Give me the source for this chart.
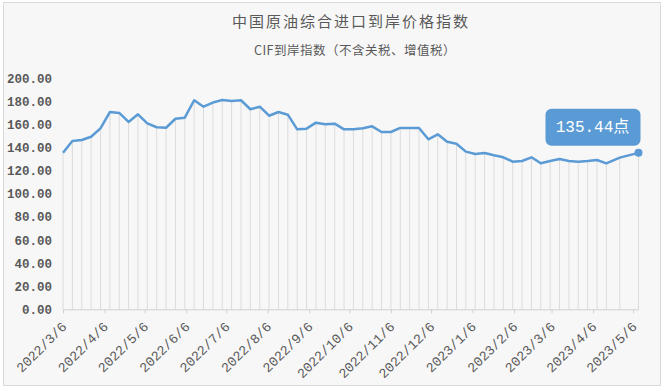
<!DOCTYPE html>
<html>
<head>
<meta charset="utf-8">
<script src="https://cdn.jsdelivr.net/npm/d3@7"></script>
<style>
  body { margin: 0; background: #fff; }
  svg { display: block; }
</style>
</head>
<body>
<div id="chart"></div>
<script>
let title = '中国原油综合进口到岸价格指数';
let subtitle = 'CIF到岸指数（不含关税、增值税）';

// weekly readings, last two came in late (holiday gap)
let dates = [
  '2022/3/6', '2022/3/13', '2022/3/20', '2022/3/27', '2022/4/3', '2022/4/10',
  '2022/4/17', '2022/4/24', '2022/5/1', '2022/5/8', '2022/5/15', '2022/5/22',
  '2022/5/29', '2022/6/5', '2022/6/12', '2022/6/19', '2022/6/26', '2022/7/3',
  '2022/7/10', '2022/7/17', '2022/7/24', '2022/7/31', '2022/8/7', '2022/8/14',
  '2022/8/21', '2022/8/28', '2022/9/4', '2022/9/11', '2022/9/18', '2022/9/25',
  '2022/10/2', '2022/10/9', '2022/10/16', '2022/10/23', '2022/10/30', '2022/11/6',
  '2022/11/13', '2022/11/20', '2022/11/27', '2022/12/4', '2022/12/11', '2022/12/18',
  '2022/12/25', '2023/1/1', '2023/1/8', '2023/1/15', '2023/1/22', '2023/1/29',
  '2023/2/5', '2023/2/12', '2023/2/19', '2023/2/26', '2023/3/5', '2023/3/12',
  '2023/3/19', '2023/3/26', '2023/4/2', '2023/4/9', '2023/4/16', '2023/4/26',
  '2023/5/10'
];

let values = [
  135.6, 145.7, 146.6, 149.4, 156.7, 170.8,
  170.0, 162.2, 168.8, 161.0, 157.6, 157.2,
  165.0, 165.9, 181.0, 175.4, 179.0, 181.2,
  180.3, 181.0, 173.2, 175.4, 167.6, 170.8,
  168.5, 155.8, 156.4, 161.6, 160.2, 160.7,
  155.8, 155.8, 156.7, 158.4, 153.5, 153.5,
  157.0, 157.0, 157.0, 147.2, 151.5, 145.1,
  143.4, 136.5, 134.5, 135.3, 133.3, 131.6,
  127.8, 128.4, 131.6, 126.4, 128.4, 130.1,
  128.4, 127.8, 128.4, 129.3, 126.4, 131.3,
  135.44
];

let x_tick_labels = [
  '2022/3/6', '2022/4/6', '2022/5/6', '2022/6/6', '2022/7/6', '2022/8/6',
  '2022/9/6', '2022/10/6', '2022/11/6', '2022/12/6', '2023/1/6', '2023/2/6',
  '2023/3/6', '2023/4/6', '2023/5/6'
];

let y_tick_values = [0, 20, 40, 60, 80, 100, 120, 140, 160, 180, 200];

let callout_label = '135.44点';

let chart_width = 667;
let chart_height = 389;
let line_color = '#5b9bd5';
let text_color = '#595959';
let num_font = '"Liberation Mono", "Noto Sans CJK SC", monospace';

let parse = d3.timeParse('%Y/%-m/%-d');
let data = dates.map((d, i) => {
  return { date: parse(d), value: values[i] };
});

let svg = d3
  .select('#chart')
  .append('svg')
  .attr('width', chart_width)
  .attr('height', chart_height);

//panel background + border
svg
  .append('rect')
  .attr('x', 3.5)
  .attr('y', 2.5)
  .attr('width', 657)
  .attr('height', 383)
  .attr('fill', '#f7f7f7')
  .attr('stroke', '#d9d9d9');

let x_scale = d3
  .scaleTime()
  .domain([data[0].date, data[data.length - 1].date])
  .range([63, 638.5]);

let y_scale = d3
  .scaleLinear()
  .domain([0, 200])
  .range([309.3, 78.3]);

//titles
svg
  .append('text')
  .attr('x', 351)
  .attr('y', 27)
  .attr('text-anchor', 'middle')
  .style('font-family', '"Noto Sans CJK SC", sans-serif')
  .style('font-size', '15px')
  .style('letter-spacing', '2px')
  .attr('fill', text_color)
  .text(title);

svg
  .append('text')
  .attr('x', 355)
  .attr('y', 55)
  .attr('text-anchor', 'middle')
  .style('font-family', '"Noto Sans CJK SC", sans-serif')
  .style('font-size', '12.5px')
  .style('letter-spacing', '0.5px')
  .attr('fill', text_color)
  .text(subtitle);

//drop lines from each point to the baseline
svg
  .append('g')
  .attr('class', 'drops')
  .selectAll('line')
  .data(data)
  .enter()
  .append('line')
  .attr('x1', d => x_scale(d.date))
  .attr('x2', d => x_scale(d.date))
  .attr('y1', d => y_scale(d.value))
  .attr('y2', y_scale(0))
  .attr('stroke', '#dcdcdc')
  .attr('stroke-width', 1);

//y axis (labels only)
let y_axis = d3
  .axisLeft(y_scale)
  .tickValues(y_tick_values)
  .tickSize(0)
  .tickPadding(0)
  .tickFormat(d3.format('.2f'));

let y_g = svg
  .append('g')
  .attr('class', 'y-axis')
  .attr('transform', 'translate(52,0)')
  .call(y_axis);
y_g.select('.domain').remove();
y_g
  .selectAll('text')
  .attr('fill', text_color)
  .style('font-family', num_font)
  .style('font-size', '12.5px')
  .style('font-weight', 'bold');

//x axis
let x_axis = d3
  .axisBottom(x_scale)
  .tickValues(x_tick_labels.map(parse))
  .tickSizeInner(4)
  .tickSizeOuter(0)
  .tickFormat(d3.timeFormat('%Y/%-m/%-d'));

let x_g = svg
  .append('g')
  .attr('class', 'x-axis')
  .attr('transform', 'translate(0,' + y_scale(0) + ')')
  .call(x_axis);
x_g.select('.domain').attr('stroke', '#d0d0d0');
x_g.selectAll('line').attr('stroke', '#d0d0d0');
x_g
  .selectAll('text')
  .attr('fill', text_color)
  .attr('text-anchor', 'end')
  .attr('x', -10)
  .attr('y', 11)
  .attr('dy', '0.35em')
  .attr('transform', 'rotate(-45)')
  .style('font-family', num_font)
  .style('font-size', '13.5px');

//the line
let line = d3
  .line()
  .x(d => x_scale(d.date))
  .y(d => y_scale(d.value));

svg
  .append('path')
  .datum(data)
  .attr('d', line)
  .attr('fill', 'none')
  .attr('stroke', line_color)
  .attr('stroke-width', 2.5)
  .attr('stroke-linejoin', 'round');

//end marker + callout
let last = data[data.length - 1];
let lx = x_scale(last.date);
let ly = y_scale(last.value);

svg
  .append('circle')
  .attr('cx', lx)
  .attr('cy', ly)
  .attr('r', 4)
  .attr('fill', line_color);

let callout = svg
  .append('g')
  .attr('transform', 'translate(' + (lx - 46) + ',' + (ly - 26) + ')');

callout
  .append('rect')
  .attr('x', -47)
  .attr('y', -18)
  .attr('width', 95)
  .attr('height', 37)
  .attr('rx', 6)
  .attr('fill', line_color);

callout
  .append('text')
  .attr('text-anchor', 'middle')
  .attr('dy', '0.35em')
  .attr('fill', '#fff')
  .style('font-family', num_font)
  .style('font-size', '16px')
  .text(callout_label);
</script>
</body>
</html>
